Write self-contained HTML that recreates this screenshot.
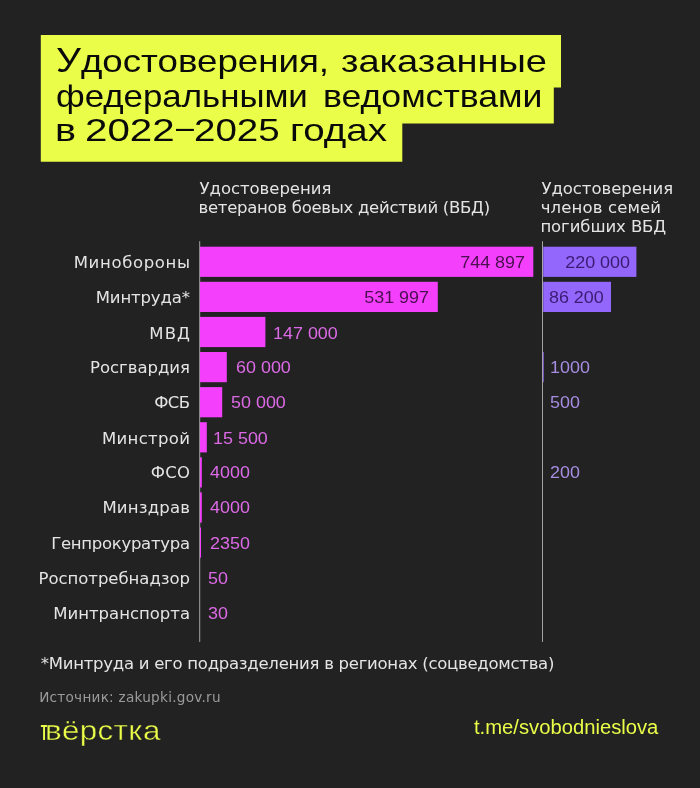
<!DOCTYPE html>
<html lang="ru"><head><meta charset="utf-8"><title>Удостоверения, заказанные федеральными ведомствами</title>
<style>
html,body{margin:0;padding:0;background:#222222}
body{width:700px;height:788px;background:#222222;position:relative;overflow:hidden;font-family:"DejaVu Sans","Liberation Sans",sans-serif}
.a{position:absolute;white-space:pre}
.t{position:absolute;white-space:pre;left:56.3px;font-family:"Liberation Sans",sans-serif;font-size:32px;line-height:36px;height:36px;color:#0a0a0a;transform-origin:0 50%}
.h{position:absolute;white-space:pre;font-size:16.5px;line-height:19.3px;color:#e4e4e4}
.h span{display:block}
.l{position:absolute;white-space:pre;right:510px;text-align:right;font-size:16.5px;line-height:24px;height:24px;color:#e4e4e4}
.n{position:absolute;white-space:pre;font-family:"Liberation Sans",sans-serif;font-size:16.6px;line-height:24px;height:24px;transform:scaleX(1.08);transform-origin:0 50%}
.r{transform-origin:100% 50%}
</style></head><body>
<svg class="a" style="left:0;top:0" width="700" height="788" viewBox="0 0 700 788">
<path fill="#eafd48" d="M40.8 34.9H561V87.6H553.8V123.6H402.3V161.8H40.8Z"/>
<rect x="199.2" y="241.2" width="1" height="400.7" fill="#a4a4a4"/>
<rect x="542" y="241.2" width="1" height="400.7" fill="#a4a4a4"/>
<rect x="200" y="246.7" width="333.3" height="30.2" fill="#f43ffc"/>
<rect x="543.2" y="246.7" width="93.2" height="30.2" fill="#9366fc"/>
<rect x="200" y="281.8" width="237.8" height="30.2" fill="#f43ffc"/>
<rect x="543.2" y="281.8" width="67.8" height="30.2" fill="#9366fc"/>
<rect x="200" y="316.9" width="65.4" height="30.2" fill="#f43ffc"/>
<rect x="200" y="352.0" width="26.8" height="30.2" fill="#f43ffc"/>
<rect x="543.2" y="352.0" width="0.7" height="30.2" fill="#9366fc"/>
<rect x="200" y="387.1" width="22.2" height="30.2" fill="#f43ffc"/>
<rect x="200" y="422.2" width="6.8" height="30.2" fill="#f43ffc"/>
<rect x="200" y="457.3" width="1.8" height="30.2" fill="#f43ffc"/>
<rect x="200" y="492.4" width="1.8" height="30.2" fill="#f43ffc"/>
<rect x="200" y="527.5" width="1.0" height="30.2" fill="#f43ffc"/>
</svg>
<div class="t" style="top:42.6px;left:56.19px;transform:scaleX(1.1469)"><span style="font-size:34.2px;line-height:0">У</span>достоверения,</div>
<div class="t" style="top:42.6px;left:340.7px;transform:scaleX(1.189)">заказанные</div>
<div class="t" style="top:77.6px;left:56.19px;transform:scaleX(1.0884)">федеральными</div>
<div class="t" style="top:77.6px;left:322.51px;transform:scaleX(1.1129)">ведомствами</div>
<div class="t" style="top:112.2px;left:55.13px;transform:scaleX(1.2358)">в </div>
<div class="t" style="top:112.2px;left:85.47px;transform:scaleX(1.2593)">2022</div>
<div class="t" style="top:109.0px;left:175.7px;transform:scaleX(1.008)">–</div>
<div class="t" style="top:112.2px;left:193.75px;transform:scaleX(1.2042)">2025 </div>
<div class="t" style="top:112.2px;left:289.6px;transform:scaleX(1.2045)">годах</div>
<div class="h" style="left:199.5px;top:178.6px"><span style="letter-spacing:-0.038px">Удостоверения</span><span style="letter-spacing:-0.282px;margin-left:-1px">ветеранов боевых действий (ВБД)</span></div>
<div class="h" style="left:541.4px;top:178.6px"><span style="letter-spacing:-0.038px">Удостоверения</span><span style="letter-spacing:0.137px;margin-left:-0.7px">членов семей</span><span style="letter-spacing:-0.088px;margin-left:-1px">погибших ВБД</span></div>

<div class="l" style="top:250.7px;letter-spacing:0.641px;margin-right:-0.641px">Минобороны</div>
<div class="n r" style="top:250.7px;right:175.3px;color:#4a1050">744 897</div>
<div class="n r" style="top:250.7px;right:69.8px;color:#3a1d73">220 000</div>
<div class="l" style="top:285.7px;letter-spacing:-0.134px;margin-right:0.134px">Минтруда*</div>
<div class="n r" style="top:285.7px;right:270.8px;color:#4a1050">531 997</div>
<div class="n r" style="top:285.7px;right:96.2px;color:#3a1d73">86 200</div>
<div class="l" style="top:321.7px;letter-spacing:1.131px;margin-right:-1.131px">МВД</div>
<div class="n" style="top:321.7px;left:273.0px;color:#dc6ae6">147 000</div>
<div class="l" style="top:355.7px;letter-spacing:-0.015px;margin-right:0.015px">Росгвардия</div>
<div class="n" style="top:355.7px;left:235.7px;color:#dc6ae6">60 000</div>
<div class="n" style="top:355.7px;left:550.2px;color:#a68ce0">1000</div>
<div class="l" style="top:390.7px;letter-spacing:-0.7px;margin-right:0.7px">ФСБ</div>
<div class="n" style="top:390.7px;left:231.1px;color:#dc6ae6">50 000</div>
<div class="n" style="top:390.7px;left:550.2px;color:#a68ce0">500</div>
<div class="l" style="top:426.7px;letter-spacing:0.33px;margin-right:-0.33px">Минстрой</div>
<div class="n" style="top:426.7px;left:213.2px;color:#dc6ae6">15 500</div>
<div class="l" style="top:460.7px;letter-spacing:0.313px;margin-right:-0.313px">ФСО</div>
<div class="n" style="top:460.7px;left:209.8px;color:#dc6ae6">4000</div>
<div class="n" style="top:460.7px;left:550.2px;color:#a68ce0">200</div>
<div class="l" style="top:495.7px;letter-spacing:0.192px;margin-right:-0.192px">Минздрав</div>
<div class="n" style="top:495.7px;left:209.8px;color:#dc6ae6">4000</div>
<div class="l" style="top:531.7px;letter-spacing:-0.299px;margin-right:0.299px">Генпрокуратура</div>
<div class="n" style="top:531.7px;left:209.8px;color:#dc6ae6">2350</div>
<div class="l" style="top:566.7px;letter-spacing:-0.041px;margin-right:0.041px">Роспотребнадзор</div>
<div class="n" style="top:566.7px;left:208.3px;color:#dc6ae6">50</div>
<div class="l" style="top:601.7px;letter-spacing:-0.011px;margin-right:0.011px">Минтранспорта</div>
<div class="n" style="top:601.7px;left:208.3px;color:#dc6ae6">30</div>
<div class="a" style="left:40.8px;top:653.6px;font-size:16.5px;line-height:20px;letter-spacing:-0.266px;color:#e4e4e4">*Минтруда и его подразделения в регионах (соцведомства)</div>
<div class="a" style="left:39.2px;top:688px;font-size:13.6px;line-height:18px;letter-spacing:0.26px;color:#9b9b9b">Источник: zakupki.gov.ru</div>
<svg class="a" style="left:38px;top:720px" width="14" height="24" viewBox="38 720 14 24"><path d="M40.9 725H48.2V726.9H45V740H43.1V726.9H40.9Z" fill="#eafd48"/></svg>
<div class="a" style="left:44.9px;top:715px;font-family:'Liberation Sans',sans-serif;font-size:27.5px;line-height:32px;letter-spacing:0.3px;color:#eafd48;-webkit-text-stroke:0.4px #222222;transform-origin:0 50%;transform:scaleX(1.14)">вёрстка</div>
<div class="a" style="left:474.2px;top:716.2px;font-family:'Liberation Sans',sans-serif;font-size:19.5px;line-height:22px;color:#eafd48;transform-origin:0 50%;transform:scaleX(1.037)">t.me/svobodnieslova</div>
</body></html>
